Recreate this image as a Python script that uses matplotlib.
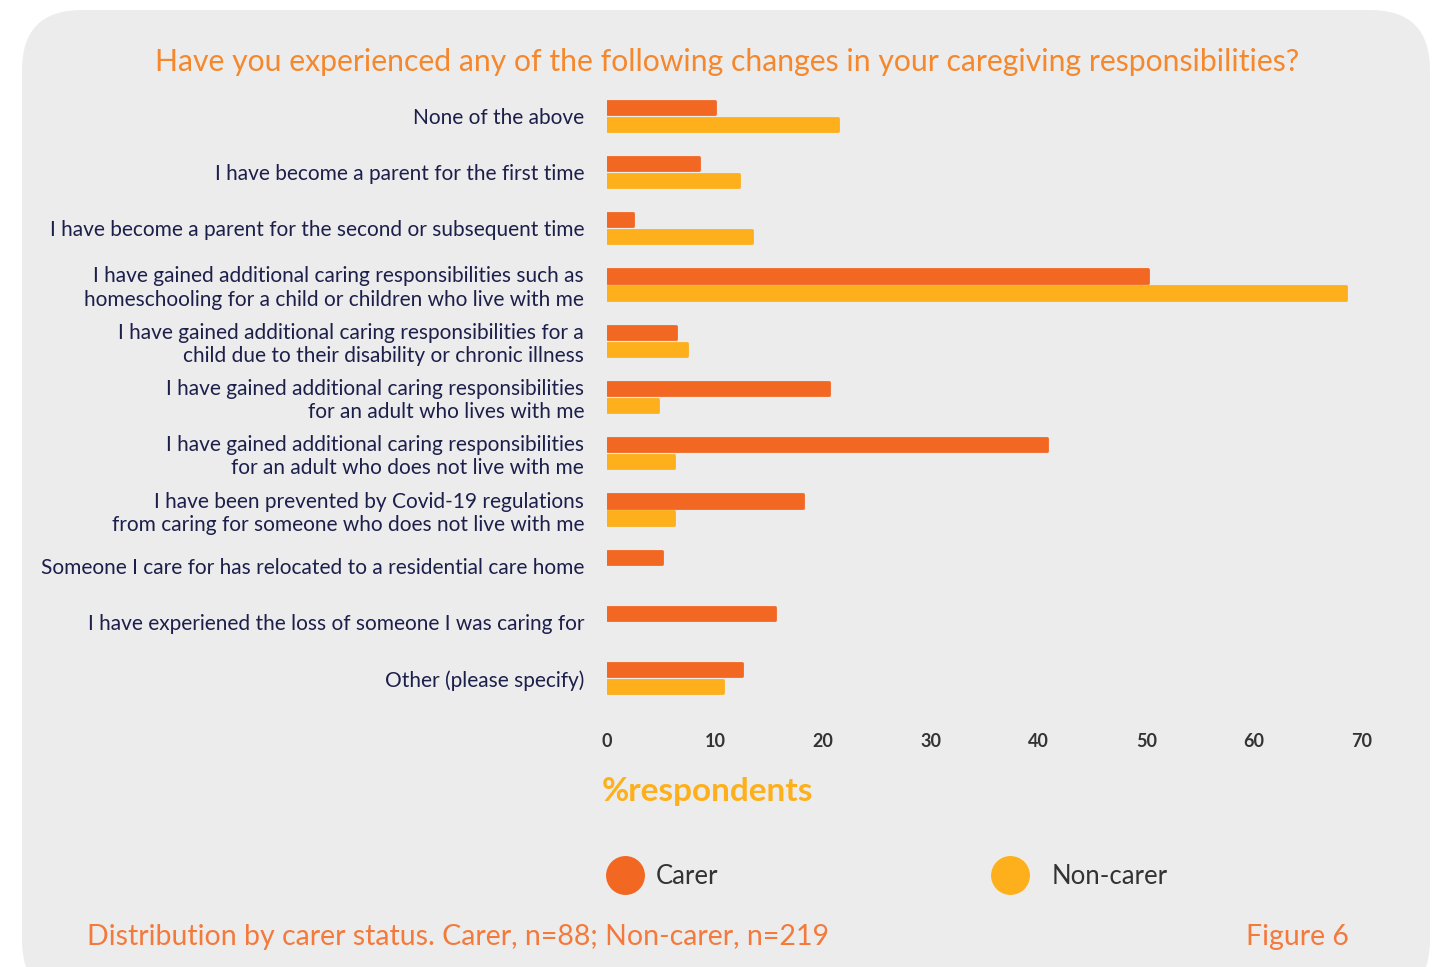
import matplotlib.pyplot as plt
from matplotlib.patches import FancyBboxPatch
from matplotlib.lines import Line2D
import numpy as np

plt.rcParams['font.family'] = ['Lato', 'DejaVu Sans']

categories = [
    'None of the above',
    'I have become a parent for the first time',
    'I have become a parent for the second or subsequent time',
    'I have gained additional caring responsibilities such as\nhomeschooling for a child or children who live with me',
    'I have gained additional caring responsibilities for a\nchild due to their disability or chronic illness',
    'I have gained additional caring responsibilities\nfor an adult who lives with me',
    'I have gained additional caring responsibilities\nfor an adult who does not live with me',
    'I have been prevented by Covid-19 regulations\nfrom caring for someone who does not live with me',
    'Someone I care for has relocated to a residential care home',
    'I have experiened the loss of someone I was caring for',
    'Other (please specify)',
]
carer = [10.0, 8.5, 2.4, 50.2, 6.4, 20.6, 40.8, 18.2, 5.1, 15.6, 12.5]
non_carer = [21.4, 12.2, 13.4, 68.5, 7.4, 4.7, 6.2, 6.2, 0, 0, 10.8]
series = ['Carer', 'Non-carer']
colors = ['#f26722', '#fdb01b']
xticks = [0, 10, 20, 30, 40, 50, 60, 70]

W, H = 1446, 967
fig = plt.figure(figsize=(W / 100, H / 100), dpi=100)

# rounded grey panel behind everything
bg = fig.add_axes([0, 0, 1, 1], zorder=-1)
bg.set_xlim(0, W)
bg.set_ylim(H, 0)
bg.axis('off')
bg.add_patch(FancyBboxPatch((22, 10), 1408, 990, boxstyle='round,pad=0,rounding_size=60',
                            fc='#ececec', ec='none'))

ax = fig.add_axes([607 / W, 1 - 712 / H, (1362 - 607) / W, (712 - 82) / H])
ax.set_facecolor('none')

y = np.arange(len(categories))
off = 0.15
h = 0.235
for vals, color, sign in zip([carer, non_carer], colors, [-1, 1]):
    vals = np.array(vals, dtype=float)
    keep = vals > 0
    ax.barh(y[keep] + sign * off, vals[keep], height=h, color=color,
            edgecolor=color, linewidth=2, joinstyle='round')

ax.set_xlim(0, 70)
ax.set_ylim(len(categories) - 0.4, -0.6)
ax.set_yticks(y, categories)
ax.tick_params(axis='y', length=0, pad=16.5, labelsize=15, labelcolor='#1c1f4a')
ax.set_xticks(xticks, [str(t) for t in xticks], fontweight='bold', color='#333333', fontsize=13)
ax.tick_params(axis='x', length=0, pad=15)
for s in ax.spines.values():
    s.set_visible(False)

fig.text(727 / W, 1 - 62 / H,
         'Have you experienced any of the following changes in your caregiving responsibilities?',
         ha='center', va='center', color='#f5872c', fontsize=21.7)

fig.text(602 / W, 1 - 792 / H, '%respondents', ha='left', va='center',
         color='#fdb01b', fontsize=24, fontweight='bold')

# legend, one entry at a time so each sits where the reference has it
for name, color, lx, gap in zip(series, colors, [606 / W, 991 / W], [0.45, 0.85]):
    handle = Line2D([], [], marker='o', ls='none', markersize=27, color=color)
    fig.legend(handles=[handle], labels=[name], loc='center left',
               bbox_to_anchor=(lx, 1 - 876 / H), frameon=False, fontsize=18.5,
               handlelength=1.5, handletextpad=gap, borderpad=0, borderaxespad=0,
               labelcolor='#333333')

fig.text(87 / W, 1 - 937 / H, 'Distribution by carer status. Carer, n=88; Non-carer, n=219',
         ha='left', va='center', color='#f47a3c', fontsize=20.5)
fig.text(1349 / W, 1 - 937 / H, 'Figure 6', ha='right', va='center',
         color='#f47a3c', fontsize=20.5)

fig.savefig('out.png', dpi=100, facecolor='white')
